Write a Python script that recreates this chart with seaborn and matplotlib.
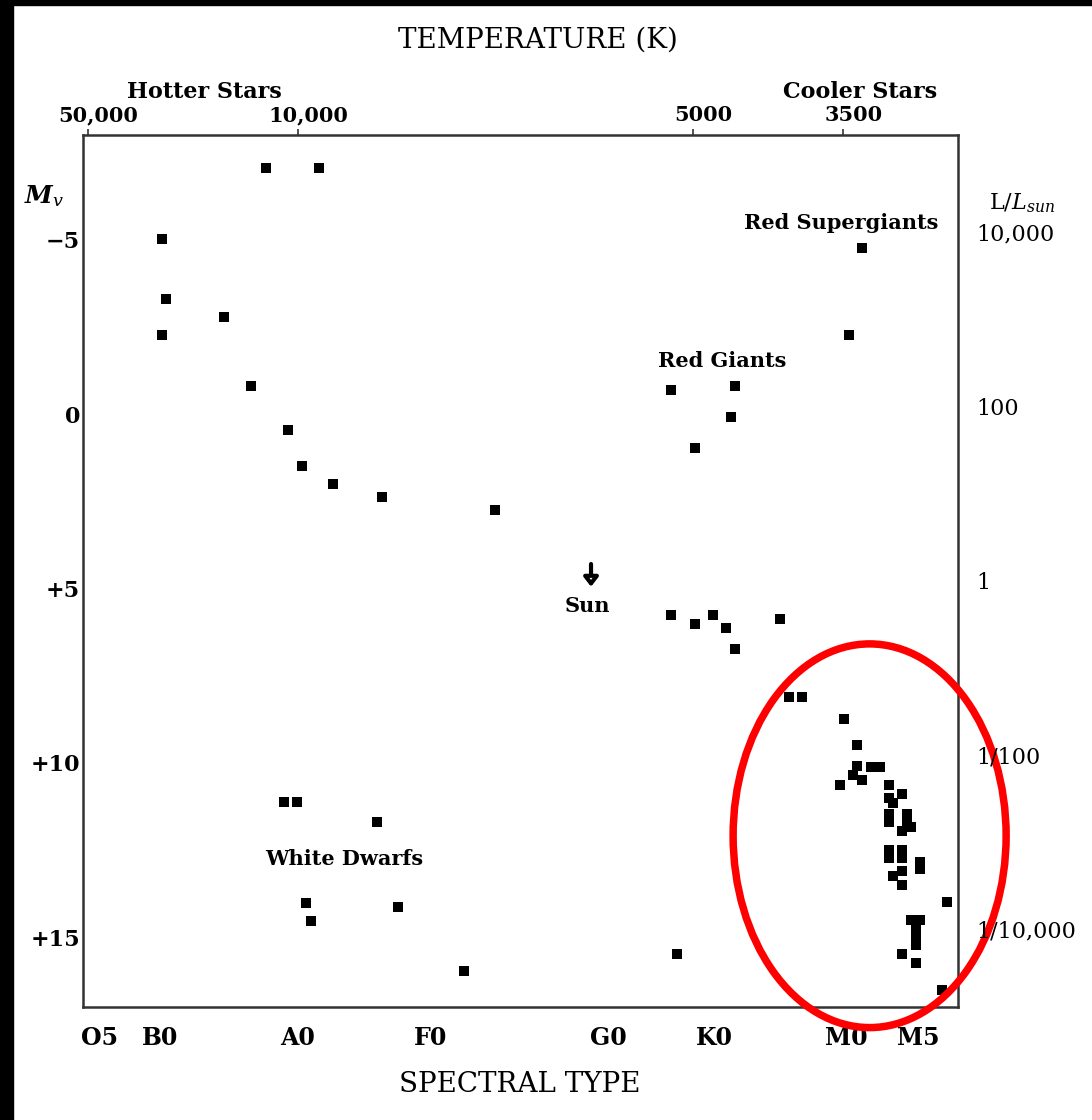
import numpy as np
import pandas as pd
import seaborn as sns
import matplotlib
matplotlib.use("Agg")
import matplotlib.pyplot as plt
from matplotlib.patches import Ellipse, Rectangle
from matplotlib.transforms import ScaledTranslation

# Spectral position runs 0..100 across the diagram (O5 at the left, late M at the right)
spectral_ticks = [1.9, 8.8, 24.5, 39.7, 60.0, 72.2, 87.2, 95.4]
spectral_labels = ["O5", "B0", "A0", "F0", "G0", "K0", "M0", "M5"]

temp_ticks = [0.6, 24.6, 69.7, 86.9]
temp_labels = ["50,000", "10,000", "5000", "3500"]

mag_ticks = [-5, 0, 5, 10, 15]
mag_labels = ["\u22125", "0", "+5", "+10", "+15"]
lum_labels = ["10,000", "100", "1", "1/100", "1/10,000"]

# Upper and middle main sequence
ms_spec = [20.9, 27.0, 9.0, 9.5, 16.1, 9.0, 19.2, 23.4, 25.0, 28.6, 34.2, 47.1,
           67.2, 69.9, 72.0, 73.5, 74.5, 79.7]
ms_mag = [-7.04, -7.04, -5.01, -3.29, -2.78, -2.26, -0.80, 0.46, 1.49, 2.00, 2.37, 2.75,
          5.75, 6.01, 5.75, 6.12, 6.75, 5.87]

# Red giants and supergiants
giant_spec = [89.0, 87.5, 67.2, 74.5, 74.1, 69.9]
giant_mag = [-4.75, -2.26, -0.69, -0.80, 0.09, 0.97]

# White dwarfs and faint stars
wd_spec = [23.0, 24.5, 33.6, 25.5, 26.1, 36.0, 43.5, 67.9]
wd_mag = [11.13, 11.13, 11.70, 14.02, 14.53, 14.13, 15.97, 15.48]

# Lower main sequence (red dwarfs)
dwarf_spec = [80.7, 82.2, 87.0, 88.5, 88.5, 88.0, 89.0, 90.1, 91.1, 86.5, 92.1,
              92.1, 92.6, 93.6, 92.1, 92.1, 94.2, 94.2, 94.6, 93.6,
              92.1, 92.1, 93.6, 93.6, 95.7, 95.7, 92.6, 93.6, 93.6,
              98.7, 94.6, 95.7, 95.2, 95.2, 95.2, 93.6, 95.2, 98.2]
dwarf_mag = [8.10, 8.10, 8.73, 9.50, 10.10, 10.36, 10.50, 10.13, 10.13, 10.64, 10.64,
             11.02, 11.16, 10.90, 11.47, 11.70, 11.47, 11.70, 11.85, 11.96,
             12.50, 12.73, 12.50, 12.73, 12.85, 13.05, 13.25, 13.10, 13.50,
             13.99, 14.51, 14.51, 14.68, 14.94, 15.22, 15.48, 15.74, 16.51]

stars = pd.DataFrame({
    "spec": ms_spec + giant_spec + wd_spec + dwarf_spec,
    "mag": ms_mag + giant_mag + wd_mag + dwarf_mag,
})

sns.set_theme(style="white")
plt.rcParams["font.family"] = ["DejaVu Serif"]
plt.rcParams["mathtext.fontset"] = "dejavuserif"
plt.rcParams["text.color"] = "black"
plt.rcParams["xtick.color"] = "black"
plt.rcParams["ytick.color"] = "black"

W, H = 1092, 1120
fig = plt.figure(figsize=(W / 100, H / 100), dpi=100)
fig.patch.set_facecolor("white")
ax = fig.add_axes([83 / W, 1 - 1007 / H, 875 / W, 872 / H])

sns.scatterplot(data=stars, x="spec", y="mag", marker="s", color="black",
                s=44, linewidth=0, ax=ax, zorder=3)

ax.set_xlim(0, 100)
ax.set_ylim(17, -8)
ax.set_xlabel("")
ax.set_ylabel("")

for sp in ax.spines.values():
    sp.set_color("#333333")
    sp.set_linewidth(1.8)

ax.set_xticks(spectral_ticks)
ax.set_xticklabels(spectral_labels, fontsize=17, fontweight="bold")
ax.set_yticks(mag_ticks)
ax.set_yticklabels(mag_labels, fontsize=16, fontweight="bold")
ax.tick_params(axis="x", length=0, pad=14)
ax.tick_params(axis="y", length=0, pad=2)

# Luminosity scale on the right
axr = ax.twinx()
axr.set_ylim(ax.get_ylim())
axr.set_yticks(mag_ticks)
axr.set_yticklabels(lum_labels, fontsize=16)
axr.tick_params(axis="y", length=0, pad=13)
up = ScaledTranslation(0, 8 / 100, fig.dpi_scale_trans)
for lab in axr.get_yticklabels():
    lab.set_transform(lab.get_transform() + up)
axr.grid(False)
for sp in axr.spines.values():
    sp.set_visible(False)

# Temperature scale on the top
axt = ax.twiny()
axt.set_xlim(ax.get_xlim())
axt.set_xticks(temp_ticks)
axt.set_xticklabels(temp_labels, fontsize=15, fontweight="bold")
axt.tick_params(axis="x", direction="out", length=4, width=1.2, color="#333333", pad=3)
right = ScaledTranslation(10 / 100, 0, fig.dpi_scale_trans)
for lab in axt.get_xticklabels():
    lab.set_transform(lab.get_transform() + right)
axt.grid(False)
for sp in axt.spines.values():
    sp.set_visible(False)


def ftext(px, py, s, **kw):
    fig.text(px / W, 1 - py / H, s, ha="center", va="center", **kw)


ftext(538, 40, "TEMPERATURE (K)", fontsize=20)
ftext(520, 1085, "SPECTRAL TYPE", fontsize=20)
ftext(204, 92, "Hotter Stars", fontsize=16, fontweight="bold")
ftext(860, 92, "Cooler Stars", fontsize=16, fontweight="bold")
ftext(44, 196, r"$\boldsymbol{M}_v$", fontsize=18)
ftext(1022, 203, r"L/$L_{sun}$", fontsize=16)

# Region labels
ax.text(86.6, -5.47, "Red Supergiants", fontsize=15, fontweight="bold", ha="center", va="center")
ax.text(73.0, -1.52, "Red Giants", fontsize=15, fontweight="bold", ha="center", va="center")
ax.text(29.9, 12.76, "White Dwarfs", fontsize=15, fontweight="bold", ha="center", va="center")
ax.text(57.6, 5.49, "Sun", fontsize=15, fontweight="bold", ha="center", va="center")

# Arrow marking the Sun
ax.annotate("", xy=(58.06, 4.95), xytext=(58.06, 4.3),
            arrowprops=dict(arrowstyle="-|>,head_width=0.35,head_length=0.45",
                            lw=3, fc="white", ec="black", shrinkA=0, shrinkB=0))

# Red ring around the red dwarfs
ring = Ellipse((89.9, 12.09), width=31.2, height=11.0, fill=False,
               ec="red", lw=5.4, clip_on=False, zorder=6)
ax.add_patch(ring)

# Dark frame strips along the left and top edges
fig.patches.append(Rectangle((0, 0), 13 / W, 1, transform=fig.transFigure,
                             color="black", zorder=10))
fig.patches.append(Rectangle((0, 1 - 5 / H), 1, 5 / H, transform=fig.transFigure,
                             color="black", zorder=10))

fig.savefig("out.png", dpi=100, facecolor="white")
